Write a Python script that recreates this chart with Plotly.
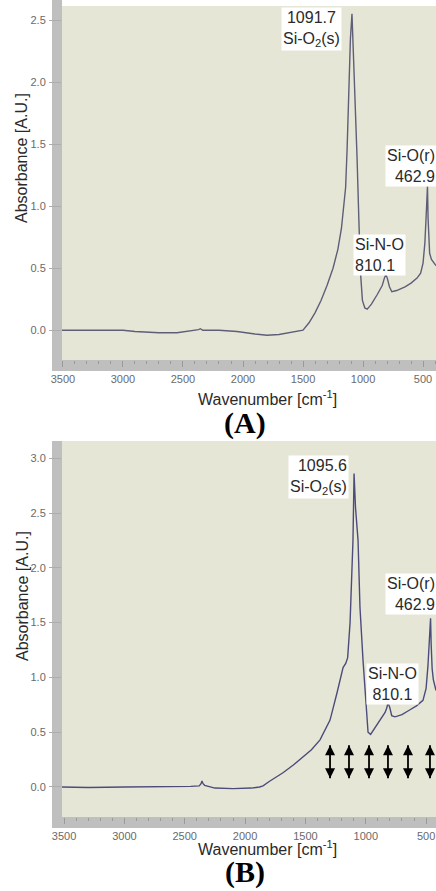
import plotly.graph_objects as go

W, H = 436, 891

# ---------------- data ----------------
# Panel A spectrum
wn_a = [3508, 3400, 3200, 3000, 2900, 2700, 2550, 2420, 2370, 2355, 2335, 2200, 2050,
        1900, 1800, 1700, 1600, 1530, 1500, 1450, 1400, 1350, 1300, 1250, 1210, 1180,
        1160, 1145, 1133, 1120, 1105, 1092, 1080, 1065, 1050, 1035, 1020, 1005, 985,
        965, 930, 880, 840, 822, 810, 798, 780, 760, 720, 650, 600, 550, 520, 500,
        485, 475, 468, 463, 458, 452, 445, 430, 410, 392]
abs_a = [0.0, 0.0, -0.005, 0.0, -0.01, -0.02, -0.02, -0.005, 0.005, 0.012, 0.0, 0.0, -0.01,
         -0.03, -0.04, -0.035, -0.02, -0.01, 0.0, 0.06, 0.14, 0.24, 0.36, 0.5, 0.65, 0.82,
         0.98, 1.15, 1.45, 1.95, 2.35, 2.55, 2.25, 1.8, 1.4, 0.9, 0.45, 0.24, 0.18,
         0.17, 0.21, 0.29, 0.36, 0.42, 0.45, 0.42, 0.35, 0.31, 0.32, 0.35, 0.38, 0.42, 0.46, 0.54,
         0.7, 0.9, 1.05, 1.16, 0.9, 0.7, 0.62, 0.57, 0.54, 0.52]

# Panel B spectrum
wn_b = [3517, 3300, 3000, 2700, 2450, 2380, 2365, 2357, 2348, 2335, 2320, 2250, 2100,
        1950, 1880, 1851, 1800, 1686, 1600, 1545, 1450, 1379, 1296, 1238, 1188, 1165,
        1150, 1130, 1106, 1097, 1085, 1064, 1048, 1023, 1006, 990, 981, 960, 930, 880,
        840, 826, 816, 800, 785, 758, 700, 640, 580, 526, 500, 485, 472, 463, 458, 450,
        440, 425, 418]
abs_b = [0.0, -0.005, 0.0, 0.0, 0.005, 0.01, 0.03, 0.055, 0.03, 0.015, 0.01, -0.01, -0.015,
         -0.01, 0.0, 0.01, 0.05, 0.13, 0.2, 0.25, 0.34, 0.43, 0.61, 0.86, 1.09, 1.13,
         1.18, 1.5, 2.25, 2.86, 2.55, 2.25, 1.64, 1.16, 0.86, 0.6, 0.5, 0.48, 0.53, 0.62,
         0.68, 0.72, 0.77, 0.72, 0.65, 0.64, 0.66, 0.7, 0.74, 0.79, 0.9, 1.1, 1.35, 1.54, 1.3, 1.08,
         0.98, 0.92, 0.88]

x_tick_vals = [3500, 3000, 2500, 2000, 1500, 1000, 500]
x_tick_text = ["3500", "3000", "2500", "2000", "1500", "1000", "500"]
y_ticks_a = [0.0, 0.5, 1.0, 1.5, 2.0, 2.5]
y_ticks_b = [0.0, 0.5, 1.0, 1.5, 2.0, 2.5, 3.0]

labels_a = ["1091.7<br>Si-O<sub>2</sub>(s)", "Si-O(r)<br>462.9", "Si-N-O<br>810.1"]
labels_b = ["1095.6<br>Si-O<sub>2</sub>(s)", "Si-O(r)<br>462.9", "Si-N-O<br>810.1"]
panel_titles = ["(A)", "(B)"]
x_title = "Wavenumber [cm<sup>-1</sup>]"
y_title = "Absorbance [A.U.]"

# double-headed arrows in panel B
arrow_wn_b = [1296, 1139, 973, 816, 650, 468]
arrow_top_b = 0.38
arrow_bottom_b = 0.08

# ---------------- layout helpers ----------------
def px(x):
    return x / W

def py(y):
    return 1 - y / H

BG = "#e6e6d7"
BAND = "#bfbfbf"
TICKC = "#9a9a9a"
LBL = "#6a6a6a"
TXT = "#2a2a2a"
FONT = "Liberation Sans"

fig = go.Figure()
fig.add_trace(go.Scatter(x=wn_a, y=abs_a, mode="lines", xaxis="x", yaxis="y",
                         line=dict(color="#5e5e78", width=1.4), showlegend=False,
                         hoverinfo="skip"))
fig.add_trace(go.Scatter(x=wn_b, y=abs_b, mode="lines", xaxis="x2", yaxis="y2",
                         line=dict(color="#4c4c7c", width=1.4), showlegend=False,
                         hoverinfo="skip"))

# arrows: shafts
ax_x, ax_y = [], []
for w in arrow_wn_b:
    ax_x += [w, w, None]
    ax_y += [arrow_bottom_b, arrow_top_b, None]
fig.add_trace(go.Scatter(x=ax_x, y=ax_y, mode="lines", xaxis="x2", yaxis="y2",
                         line=dict(color="black", width=1.8), showlegend=False,
                         hoverinfo="skip"))
# arrows: heads
fig.add_trace(go.Scatter(x=arrow_wn_b, y=[arrow_top_b] * len(arrow_wn_b), mode="markers",
                         xaxis="x2", yaxis="y2", showlegend=False, hoverinfo="skip",
                         marker=dict(symbol="arrow-up", size=10, color="black")))
fig.add_trace(go.Scatter(x=arrow_wn_b, y=[arrow_bottom_b] * len(arrow_wn_b), mode="markers",
                         xaxis="x2", yaxis="y2", showlegend=False, hoverinfo="skip",
                         marker=dict(symbol="arrow-down", size=10, color="black")))

xcommon = dict(tickmode="array", tickvals=x_tick_vals, ticktext=x_tick_text,
               ticks="outside", ticklen=6, tickcolor=TICKC, tickwidth=1,
               minor=dict(tickmode="linear", tick0=0, dtick=100, ticks="outside",
                          ticklen=3, tickcolor=TICKC),
               showgrid=False, zeroline=False, showline=False,
               tickfont=dict(family=FONT, size=11, color=LBL),
               ticklabelstandoff=3, automargin=False)
ycommon = dict(tickmode="array", ticks="outside", ticklen=12, tickcolor="#adadad",
               showgrid=False, zeroline=False, showline=False,
               tickfont=dict(family=FONT, size=11, color=LBL),
               tickformat=".1f", ticklabelstandoff=1, automargin=False)

fig.update_layout(
    width=W, height=H,
    margin=dict(l=0, r=0, t=0, b=0),
    paper_bgcolor="white", plot_bgcolor=BG,
    xaxis=dict(domain=[px(62), 1], range=[3508, 392], anchor="y", **xcommon),
    yaxis=dict(domain=[py(360), py(6)], range=[-0.24, 2.613], anchor="x",
               tickvals=y_ticks_a, **ycommon),
    xaxis2=dict(domain=[px(62), 1], range=[3517, 418], anchor="y2", **xcommon),
    yaxis2=dict(domain=[py(817), py(441)], range=[-0.274, 3.157], anchor="x2",
                tickvals=y_ticks_b, **ycommon),
)

shapes = []
for (top, bottom) in [(0, 360), (441, 817)]:
    shapes.append(dict(type="rect", xref="paper", yref="paper", layer="below",
                       x0=px(52), x1=px(62), y0=py(bottom + 11), y1=py(top),
                       fillcolor=BAND, line=dict(width=0)))
    shapes.append(dict(type="rect", xref="paper", yref="paper", layer="below",
                       x0=px(52), x1=1, y0=py(bottom + 11), y1=py(bottom),
                       fillcolor=BAND, line=dict(width=0)))
fig.update_layout(shapes=shapes)

ann = []
lab_font = dict(family=FONT, size=16, color=TXT)
# panel A labels
ann.append(dict(xref="paper", yref="paper", x=px(311), y=py(29), text=labels_a[0],
                showarrow=False, align="center", xanchor="center", yanchor="middle",
                bgcolor="white", borderpad=1, font=lab_font))
ann.append(dict(xref="paper", yref="paper", x=px(437), y=py(166), text=labels_a[1],
                showarrow=False, align="right", xanchor="right", yanchor="middle",
                bgcolor="white", borderpad=1, font=lab_font))
ann.append(dict(xref="paper", yref="paper", x=px(353), y=py(255), text=labels_a[2],
                showarrow=False, align="left", xanchor="left", yanchor="middle",
                bgcolor="white", borderpad=1, font=lab_font))
# panel B labels
ann.append(dict(xref="paper", yref="paper", x=px(349), y=py(477), text=labels_b[0],
                showarrow=False, align="right", xanchor="right", yanchor="middle",
                bgcolor="white", borderpad=1, font=lab_font))
ann.append(dict(xref="paper", yref="paper", x=px(437), y=py(594), text=labels_b[1],
                showarrow=False, align="right", xanchor="right", yanchor="middle",
                bgcolor="white", borderpad=1, font=lab_font))
ann.append(dict(xref="paper", yref="paper", x=px(392), y=py(684), text=labels_b[2],
                showarrow=False, align="center", xanchor="center", yanchor="middle",
                bgcolor="white", borderpad=1, font=lab_font))

# axis titles and panel titles
for (xt_y, yt_y, pt_y, title) in [(398, 158, 423, panel_titles[0]),
                                   (848, 596, 872, panel_titles[1])]:
    ann.append(dict(xref="paper", yref="paper", x=px(267), y=py(xt_y), text=x_title,
                    showarrow=False, xanchor="center", yanchor="middle",
                    font=dict(family=FONT, size=16, color=TXT)))
    ann.append(dict(xref="paper", yref="paper", x=px(22), y=py(yt_y), text=y_title,
                    showarrow=False, xanchor="center", yanchor="middle", textangle=-90,
                    font=dict(family=FONT, size=16, color=TXT)))
    ann.append(dict(xref="paper", yref="paper", x=px(245), y=py(pt_y),
                    text="<b>" + title + "</b>", showarrow=False,
                    xanchor="center", yanchor="middle",
                    font=dict(family="Liberation Serif", size=30, color="black")))

fig.update_layout(annotations=ann)
fig.write_html("out.html", config={"displayModeBar": False},
               post_script="document.body.style.margin='0';document.body.style.overflow='hidden';")
